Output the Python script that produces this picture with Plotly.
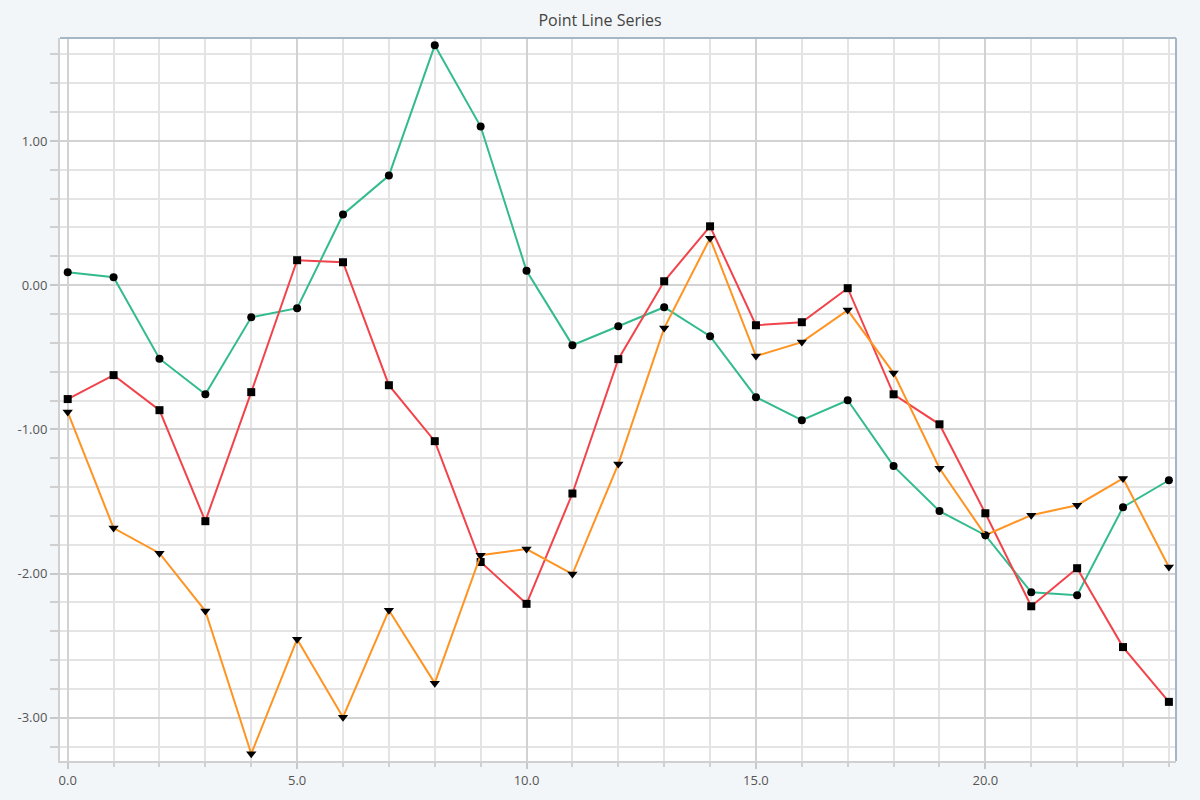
import plotly.graph_objects as go

x_vals = list(range(25))

green_vals = [0.09, 0.055, -0.51, -0.757, -0.223, -0.16, 0.49, 0.76, 1.663, 1.10,
              0.10, -0.416, -0.285, -0.153, -0.354, -0.777, -0.937, -0.798, -1.255,
              -1.567, -1.734, -2.13, -2.15, -1.54, -1.353]

red_vals = [-0.79, -0.624, -0.867, -1.637, -0.742, 0.173, 0.159, -0.694, -1.082, -1.92,
            -2.21, -1.445, -0.513, 0.027, 0.408, -0.278, -0.257, -0.021, -0.757,
            -0.965, -1.582, -2.227, -1.963, -2.51, -2.89]

orange_vals = [-0.88, -1.685, -1.859, -2.26, -3.25, -2.455, -2.996, -2.255, -2.76, -1.873,
               -1.83, -2.004, -1.241, -0.298, 0.325, -0.492, -0.395, -0.173, -0.61,
               -1.27, -1.734, -1.595, -1.526, -1.34, -1.955]

series = [
    ("Series 1", green_vals, "#33bb8e", "circle", 8),
    ("Series 2", red_vals, "#f2434b", "square", 8),
    ("Series 3", orange_vals, "#ff9422", "triangle-down", 9),
]

y_ticks = [-3, -2, -1, 0, 1]
y_tick_labels = ["-3.00", "-2.00", "-1.00", "0.00", "1.00"]
x_ticks = [0, 5, 10, 15, 20]
x_tick_labels = ["0.0", "5.0", "10.0", "15.0", "20.0"]

fig = go.Figure()
for name, vals, color, sym, size in series:
    fig.add_trace(go.Scatter(
        x=x_vals, y=vals, mode="lines+markers", name=name,
        line=dict(color=color, width=2),
        marker=dict(symbol=sym, size=size, color="#000000"),
    ))

font_family = "Open Sans, Noto Sans, sans-serif"

fig.update_layout(
    width=1200, height=800,
    paper_bgcolor="#f3f6f8",
    plot_bgcolor="#ffffff",
    showlegend=False,
    margin=dict(l=60, r=24, t=38, b=39),
    title=dict(text="Point Line Series", x=0.5, xanchor="center", y=0.975, yanchor="middle",
               font=dict(family=font_family, size=16, color="#444444")),
    font=dict(family=font_family, size=12, color="#555555"),
)

fig.update_xaxes(
    range=[-0.168, 24.155],
    tickvals=x_ticks, ticktext=x_tick_labels,
    ticks="outside", ticklen=6, tickcolor="#c8c8c8", tickwidth=1.5,
    showgrid=True, gridcolor="#d2d2d2", gridwidth=1.5,
    minor=dict(dtick=1, tick0=0, showgrid=True, gridcolor="#e4e4e4", gridwidth=1.5,
               ticks="outside", ticklen=4, tickcolor="#d0d0d0"),
    showline=True, linecolor="#d0d0d0", linewidth=2,
    zeroline=False,
    tickfont=dict(size=13, color="#555555"),
)
fig.update_yaxes(
    range=[-3.300, 1.714],
    tickvals=y_ticks, ticktext=y_tick_labels,
    ticks="outside", ticklen=8, tickcolor="#c8c8c8", tickwidth=1.5,
    showgrid=True, gridcolor="#d2d2d2", gridwidth=1.5,
    minor=dict(dtick=0.2, tick0=0, showgrid=True, gridcolor="#e4e4e4", gridwidth=1.5,
               ticks="outside", ticklen=8, tickcolor="#d0d0d0"),
    showline=True, linecolor="#d0d0d0", linewidth=2,
    zeroline=False,
    tickfont=dict(size=13, color="#555555"),
)

# top and right border of plot area
fig.add_shape(type="line", xref="paper", yref="paper", x0=0, x1=1, y0=1, y1=1,
              line=dict(color="#a5b7c7", width=2))
fig.add_shape(type="line", xref="paper", yref="paper", x0=1, x1=1, y0=0, y1=1,
              line=dict(color="#a5b7c7", width=2))

fig.write_html("out.html")
